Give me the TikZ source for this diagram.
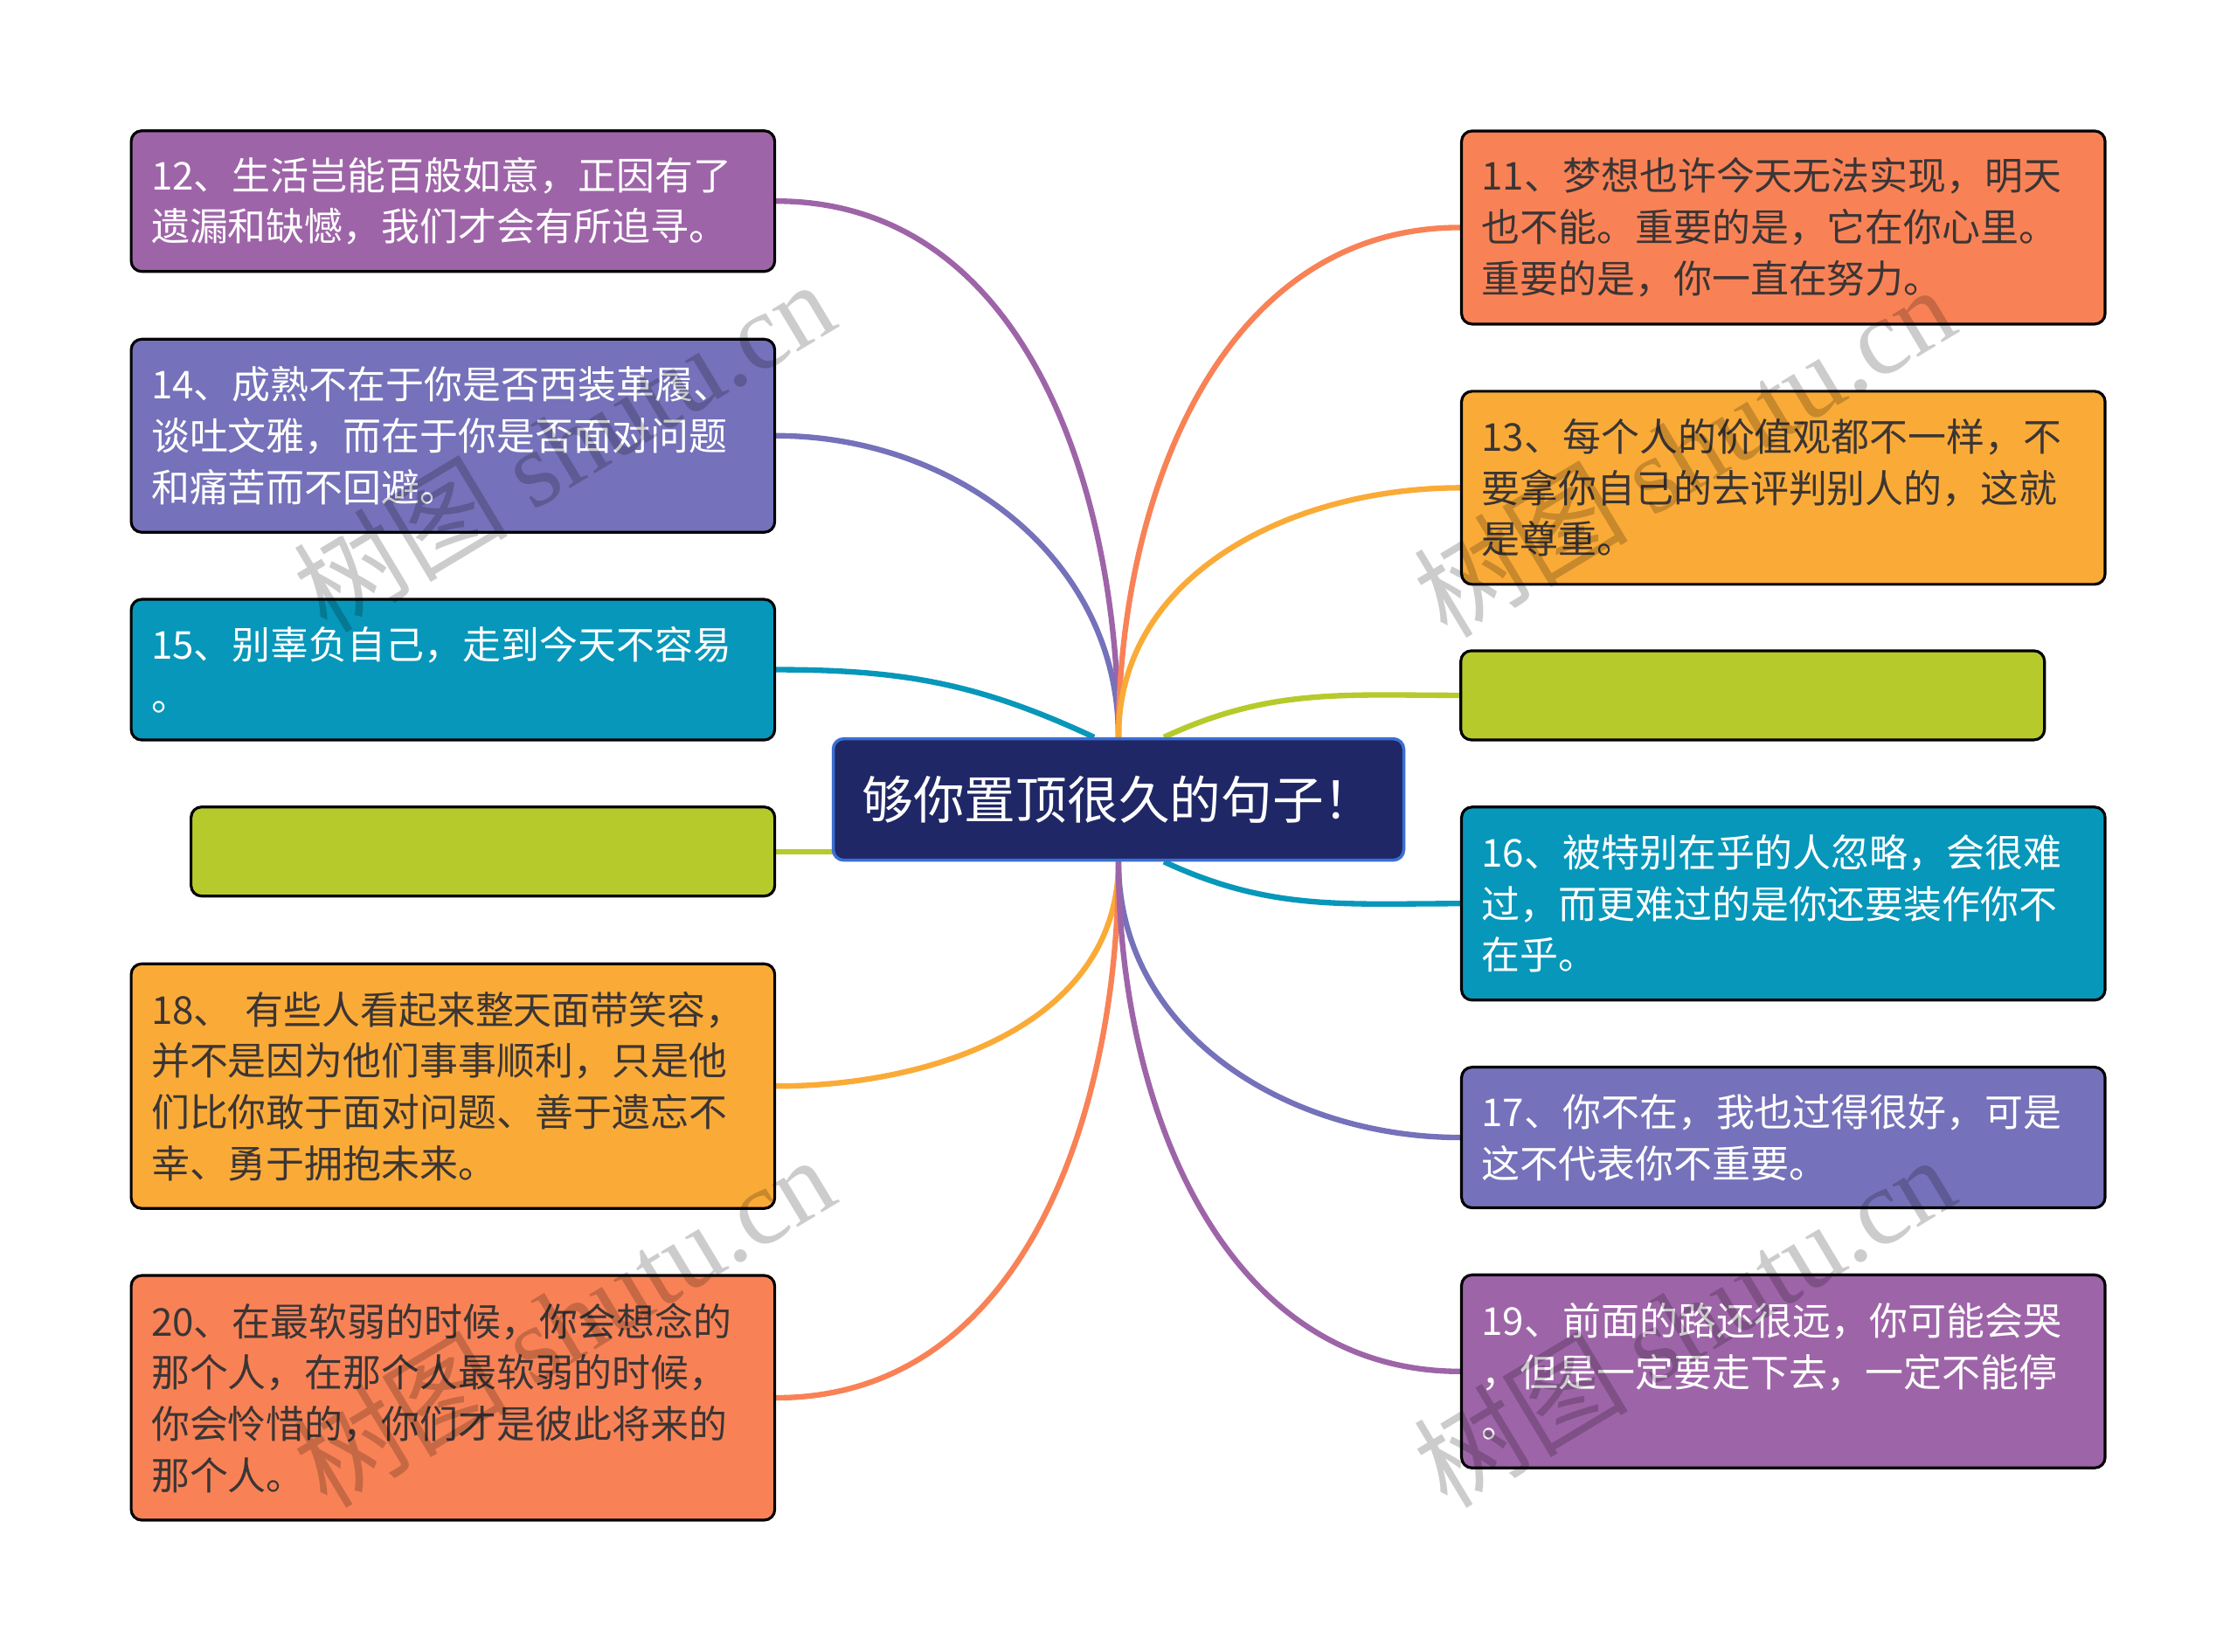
\documentclass[tikz,border=0pt]{standalone}
\usepackage{fontspec}
\setmainfont{Noto Sans CJK SC}
\newfontfamily\marklatin{Liberation Serif}
\usetikzlibrary{backgrounds}

\definecolor{mpurple}{HTML}{9E64A8}
\definecolor{mindigo}{HTML}{7571BA}
\definecolor{mteal}{HTML}{0797BA}
\definecolor{mgreen}{HTML}{B7CA2C}
\definecolor{myellow}{HTML}{FAAB37}
\definecolor{morange}{HTML}{F88256}
\definecolor{mnavy}{HTML}{1F2766}
\definecolor{mblue}{HTML}{3B6FD4}
\definecolor{mdark}{HTML}{3B3535}

\begin{document}
\begin{tikzpicture}[
  x=0.01633cm, y=-0.01633cm,
  leaf/.style={draw=black, line width=0.9pt, rounded corners=0.12cm,
    inner xsep=0.23cm, inner ysep=0pt, text width=6.905cm, align=left,
    font=\fontsize{12.5pt}{16.7pt}\selectfont},
  h2/.style={minimum height=1.61cm},
  h3/.style={minimum height=2.21cm},
  h4/.style={minimum height=2.8cm},
  blank/.style={draw=black, line width=0.9pt, rounded corners=0.12cm,
    fill=mgreen, minimum width=6.68cm, minimum height=1.02cm, inner sep=0pt},
  link/.style={line width=1.8pt},
  wmark/.style={text=black, text opacity=0.2, rotate=31,
    font=\fontsize{35pt}{40pt}\selectfont}
]
  \useasboundingbox (0,0) rectangle (1568,1158);

  \node[draw=mblue, line width=1pt, fill=mnavy, rounded corners=0.12cm,
    minimum width=6.53cm, minimum height=1.39cm, text=white,
    font=\fontsize{16.7pt}{20pt}\selectfont] (root) at (784,560.5) {够你置顶很久的句子！};

  % left side
  \node[leaf,h2,fill=mpurple,text=white] (b12) at (317.5,141)
    {12、生活岂能百般如意，正因有了\\遗漏和缺憾，我们才会有所追寻。};
  \node[leaf,h3,fill=mindigo,text=white] (b14) at (317.5,305.5)
    {14、成熟不在于你是否西装革履、\\谈吐文雅，而在于你是否面对问题\\和痛苦而不回避。};
  \node[leaf,h2,fill=mteal,text=white] (b15) at (317.5,469.5)
    {15、别辜负自己，走到今天不容易\\。};
  \node[blank] (gl) at (338.5,597) {};
  \node[leaf,h4,fill=myellow,text=mdark] (b18) at (317.5,761.5)
    {18、~有些人看起来整天面带笑容，\\并不是因为他们事事顺利，只是他\\们比你敢于面对问题、善于遗忘不\\幸、勇于拥抱未来。};
  \node[leaf,h4,fill=morange,text=mdark] (b20) at (317.5,980)
    {20、在最软弱的时候，你会想念的\\那个人，在那个人最软弱的时候，\\你会怜惜的，你们才是彼此将来的\\那个人。};

  % right side
  \node[leaf,h3,fill=morange,text=mdark] (b11) at (1250,159.5)
    {11、梦想也许今天无法实现，明天\\也不能。重要的是，它在你心里。\\重要的是，你一直在努力。};
  \node[leaf,h3,fill=myellow,text=mdark] (b13) at (1250,342)
    {13、每个人的价值观都不一样，不\\要拿你自己的去评判别人的，这就\\是尊重。};
  \node[blank] (gr) at (1228.5,487.5) {};
  \node[leaf,h3,fill=mteal,text=white] (b16) at (1250,633.5)
    {16、被特别在乎的人忽略，会很难\\过，而更难过的是你还要装作你不\\在乎。};
  \node[leaf,h2,fill=mindigo,text=white] (b17) at (1250,797.5)
    {17、你不在，我也过得很好，可是\\这不代表你不重要。};
  \node[leaf,h3,fill=mpurple,text=white] (b19) at (1250,961.5)
    {19、前面的路还很远，你可能会哭\\，但是一定要走下去，一定不能停\\。};

  \begin{scope}[on background layer]
    \fill[white] (0,0) rectangle (1568,1158);
    \draw[link,mpurple] (root.north) to[out=90,in=0] (b12.east);
    \draw[link,mindigo] (root.north) to[out=90,in=0] (b14.east);
    \draw[link,mteal] ([xshift=-0.28cm]root.north) to[out=155,in=0] (b15.east);
    \draw[link,mgreen] (gl.east) -- (gl.east -| root.center);
    \draw[link,myellow] (root.south) to[out=-90,in=0] (b18.east);
    \draw[link,morange] (root.south) to[out=-90,in=0] (b20.east);
    \draw[link,morange] (root.north) to[out=90,in=180] (b11.west);
    \draw[link,myellow] (root.north) to[out=90,in=180] (b13.west);
    \draw[link,mgreen] ([xshift=0.52cm]root.north) to[out=25,in=180] (gr.west);
    \draw[link,mteal] ([xshift=0.52cm]root.south) to[out=-25,in=180] (b16.west);
    \draw[link,mindigo] (root.south) to[out=-90,in=180] (b17.west);
    \draw[link,mpurple] (root.south) to[out=-90,in=180] (b19.west);
  \end{scope}

  % watermarks
  \node[wmark] (w1) at (395,312) {树图 {\marklatin shutu.cn}};
  \node[wmark] (w2) at (1180,316) {树图 {\marklatin shutu.cn}};
  \node[wmark] (w3) at (395,926) {树图 {\marklatin shutu.cn}};
  \node[wmark] (w4) at (1180,926) {树图 {\marklatin shutu.cn}};
\end{tikzpicture}
\end{document}
